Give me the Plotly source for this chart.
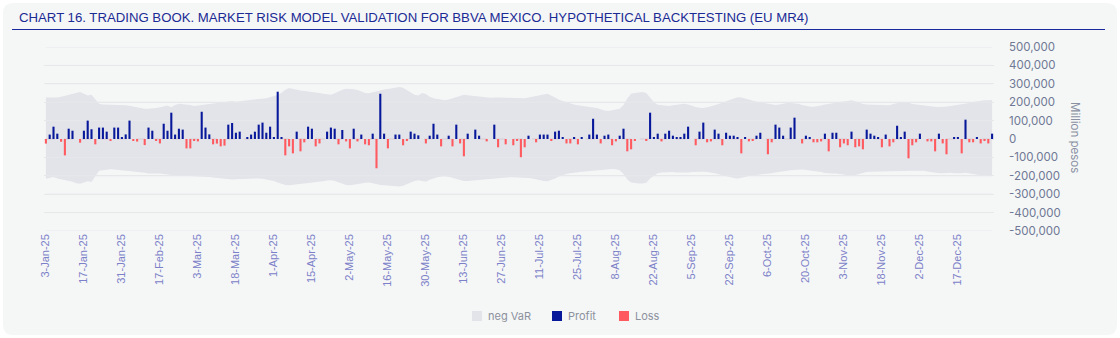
import pandas as pd
import plotly.graph_objects as go

# ---------------- data ----------------
mx_holidays = ["2025-02-03", "2025-03-17", "2025-04-17", "2025-04-18", "2025-05-01",
               "2025-09-16", "2025-11-17", "2025-12-12", "2025-12-25"]
trading_days = pd.bdate_range("2025-01-03", "2025-12-31", freq="C", holidays=mx_holidays)
dates = [f"{d.day}-{d.strftime('%b-%y')}" for d in trading_days]

# daily hypothetical P&L (million pesos)
pnl = [
    -25000, 24000, 67000, 29000, -15000, -89000, 56000, 45000, 0, -20000,
    45000, 100000, 53000, -29000, 62000, 62000, 40000, -10000, 62000, 62000,
    9000, 25000, 100000, -10000, -14000, 0, -33000, 62000, 45000, -9000,
    -24000, 83000, 45000, 143000, 24000, 56000, 51000, -51000, -51000, -9000,
    -13000, 148000, 62000, 25000, -29000, -25000, -40000, -36000, 78000, 87000,
    34000, 40000, 0, 9000, 24000, 40000, 78000, 89000, 34000, 67000,
    9000, 257000, 9000, -89000, -40000, -78000, 40000, -67000, -18000, 67000,
    56000, -40000, -24000, 0, 40000, 62000, 56000, -29000, 49000, -13000,
    -51000, 56000, -13000, 24000, -29000, -34000, 29000, -159000, 246000, 29000,
    -51000, 0, 24000, 24000, -34000, -7000, 40000, 29000, 20000, 0,
    -24000, 18000, 83000, 24000, -40000, 0, 18000, -40000, 78000, -24000,
    -94000, 29000, 0, 51000, 18000, 0, -13000, 0, 78000, -45000,
    0, -29000, 0, -34000, -7000, -99000, -45000, 18000, 0, -18000,
    24000, 24000, 24000, -7000, 40000, 45000, 7000, -24000, -24000, 7000,
    -29000, 9000, 0, 24000, 110000, 24000, -24000, 18000, 24000, -34000,
    -13000, 18000, 56000, -67000, -56000, -7000, 0, 0, -7000, 143000,
    9000, 29000, -13000, 29000, 45000, 18000, 9000, 9000, 29000, 67000,
    0, -34000, 40000, 89000, -18000, -13000, 51000, 29000, -34000, 34000,
    18000, 18000, 7000, -78000, 7000, -13000, -7000, 18000, 34000, 0,
    -83000, -18000, 78000, 62000, 18000, 0, 62000, 116000, 0, -24000,
    18000, 9000, -18000, -18000, -13000, 29000, -67000, 34000, 34000, -45000,
    -24000, -34000, 40000, -45000, -40000, -56000, 51000, 29000, 18000, 9000,
    -45000, 24000, -40000, -18000, 72000, 9000, 40000, -105000, -34000, -18000,
    29000, 0, -13000, -13000, -67000, 29000, -24000, -83000, 0, 7000,
    7000, -78000, 105000, -18000, -18000, 7000, -24000, -7000, -24000, 29000,
]

# VaR band, upper edge (million pesos)
var_upper = [
    226000, 225000, 224000, 226000, 230000, 235000, 240000, 246000, 252000, 255000,
    246000, 236000, 240000, 215000, 192000, 187000, 187000, 187000, 186000, 187000,
    186000, 184000, 181000, 177000, 173000, 168000, 165000, 165000, 166000, 168000,
    173000, 178000, 182000, 172000, 185000, 192000, 191000, 190000, 185000, 180000,
    183000, 185000, 188000, 190000, 192000, 195000, 197000, 200000, 204000, 206000,
    203000, 205000, 209000, 212000, 214000, 216000, 217000, 219000, 222000, 227000,
    233000, 240000, 252000, 268000, 277000, 272000, 266000, 263000, 261000, 259000,
    257000, 254000, 250000, 246000, 243000, 240000, 248000, 258000, 268000, 273000,
    274000, 271000, 266000, 259000, 250000, 248000, 253000, 262000, 266000, 269000,
    272000, 276000, 280000, 283000, 278000, 265000, 250000, 240000, 236000, 250000,
    244000, 230000, 222000, 218000, 211000, 210000, 214000, 220000, 226000, 233000,
    240000, 238000, 235000, 232000, 230000, 228000, 226000, 224000, 226000, 228000,
    226000, 224000, 223000, 222000, 220000, 219000, 222000, 226000, 229000, 233000,
    237000, 242000, 246000, 238000, 226000, 213000, 206000, 200000, 194000, 187000,
    183000, 179000, 176000, 174000, 171000, 168000, 160000, 155000, 152000, 158000,
    160000, 165000, 185000, 220000, 246000, 250000, 253000, 255000, 250000, 225000,
    200000, 186000, 183000, 182000, 180000, 183000, 187000, 190000, 192000, 188000,
    180000, 174000, 170000, 168000, 172000, 176000, 183000, 190000, 197000, 205000,
    212000, 220000, 227000, 226000, 222000, 215000, 208000, 202000, 198000, 195000,
    192000, 188000, 185000, 188000, 192000, 195000, 195000, 194000, 192000, 185000,
    180000, 176000, 175000, 177000, 182000, 188000, 192000, 195000, 198000, 201000,
    204000, 207000, 210000, 205000, 196000, 190000, 188000, 187000, 188000, 186000,
    185000, 184000, 184000, 190000, 196000, 200000, 201000, 198000, 190000, 187000,
    187000, 185000, 182000, 178000, 175000, 174000, 174000, 176000, 180000, 183000,
    184000, 186000, 190000, 196000, 201000, 205000, 208000, 210000, 211000, 212000,
]

# VaR band, lower edge ("neg VaR", million pesos)
var_lower = [
    -216000, -210000, -207000, -215000, -219000, -222000, -226000, -232000, -240000, -243000,
    -236000, -230000, -234000, -200000, -172000, -170000, -167000, -165000, -166000, -168000,
    -169000, -170000, -172000, -175000, -178000, -181000, -184000, -188000, -190000, -188000,
    -187000, -190000, -195000, -197000, -199000, -201000, -200000, -199000, -201000, -203000,
    -203000, -204000, -206000, -207000, -209000, -212000, -215000, -217000, -219000, -220000,
    -219000, -218000, -216000, -214000, -212000, -212000, -214000, -216000, -219000, -222000,
    -228000, -236000, -244000, -250000, -252000, -250000, -246000, -242000, -240000, -238000,
    -236000, -234000, -232000, -230000, -226000, -224000, -228000, -236000, -244000, -250000,
    -252000, -250000, -246000, -242000, -238000, -236000, -240000, -246000, -250000, -252000,
    -254000, -256000, -258000, -258000, -254000, -245000, -236000, -228000, -224000, -230000,
    -232000, -222000, -214000, -208000, -204000, -202000, -205000, -210000, -216000, -222000,
    -228000, -228000, -226000, -224000, -222000, -220000, -218000, -216000, -214000, -212000,
    -210000, -208000, -208000, -208000, -208000, -208000, -210000, -212000, -215000, -220000,
    -224000, -228000, -230000, -224000, -214000, -204000, -196000, -190000, -186000, -182000,
    -180000, -178000, -176000, -174000, -172000, -170000, -168000, -166000, -164000, -163000,
    -165000, -170000, -190000, -220000, -236000, -240000, -242000, -242000, -238000, -215000,
    -198000, -186000, -182000, -180000, -180000, -180000, -182000, -183000, -184000, -182000,
    -180000, -178000, -177000, -178000, -180000, -182000, -186000, -192000, -198000, -204000,
    -208000, -212000, -214000, -212000, -206000, -200000, -198000, -196000, -195000, -194000,
    -190000, -186000, -182000, -178000, -175000, -172000, -170000, -168000, -166000, -166000,
    -168000, -170000, -172000, -176000, -180000, -185000, -188000, -188000, -188000, -190000,
    -194000, -198000, -200000, -196000, -190000, -184000, -180000, -178000, -178000, -178000,
    -178000, -178000, -176000, -175000, -175000, -174000, -174000, -172000, -172000, -171000,
    -170000, -172000, -176000, -180000, -184000, -186000, -186000, -184000, -184000, -186000,
    -188000, -186000, -184000, -186000, -190000, -194000, -197000, -199000, -200000, -200000,
]

y_ticks = [500000, 400000, 300000, 200000, 100000, 0, -100000, -200000, -300000, -400000, -500000]
y_tick_text = ["500,000", "400,000", "300,000", "200,000", "100,000", "0",
               "-100,000", "-200,000", "-300,000", "-400,000", "-500,000"]
x_tick_vals = dates[::10]

title_text = ("CHART 16. TRADING BOOK. MARKET RISK MODEL VALIDATION FOR BBVA MEXICO. "
              "HYPOTHETICAL BACKTESTING (EU MR4)")
legend_names = ["neg VaR", "Profit", "Loss"]

# ---------------- style ----------------
W, H = 1120, 338
ML, MR, MT, MB = 44, 126, 47, 107
PW, PH = W - ML - MR, H - MT - MB
BAND = "#e2e4e9"
NAVY = "#08189a"
RED = "#ff5a5f"
GRID = "#e7e8ea"
CARD = "#f5f7f7"


def X(px):
    return (px - ML) / PW


def Y(py):
    return (H - MB - py) / PH


profit = [v if v > 0 else None for v in pnl]
loss = [v if v < 0 else None for v in pnl]

fig = go.Figure()

# band (main subplot)
fig.add_trace(go.Scatter(x=dates, y=var_upper, mode="lines", line=dict(width=0, color=BAND),
                         hoverinfo="skip", showlegend=False))
fig.add_trace(go.Scatter(x=dates, y=var_lower, mode="lines", line=dict(width=0, color=BAND),
                         fill="tonexty", fillcolor=BAND, name="neg VaR", showlegend=False))
# grid lines drawn over the band
for v in y_ticks:
    if v == 0:
        continue
    fig.add_trace(go.Scatter(x=[dates[0], dates[-1]], y=[v, v], mode="lines",
                             line=dict(width=1, color=GRID), hoverinfo="skip", showlegend=False))
fig.add_trace(go.Scatter(x=[dates[0], dates[-1]], y=[0, 0], mode="lines",
                         line=dict(width=1, color="#d9ccd3", dash="dash"),
                         hoverinfo="skip", showlegend=False))

# bars (overlay subplot, drawn above the band)
fig.add_trace(go.Bar(x=dates, y=profit, name="Profit", marker=dict(color=NAVY, line=dict(width=0)),
                     width=0.55, yaxis="y2", showlegend=False))
fig.add_trace(go.Bar(x=dates, y=loss, name="Loss", marker=dict(color=RED, line=dict(width=0)),
                     width=0.55, yaxis="y2", showlegend=False))

shapes = []
# rounded card
L, R, T, B, r = 3, 1117, 3, 335, 10
card_path = (f"M {X(L + r)},{Y(T)} L {X(R - r)},{Y(T)} Q {X(R)},{Y(T)} {X(R)},{Y(T + r)} "
             f"L {X(R)},{Y(B - r)} Q {X(R)},{Y(B)} {X(R - r)},{Y(B)} "
             f"L {X(L + r)},{Y(B)} Q {X(L)},{Y(B)} {X(L)},{Y(B - r)} "
             f"L {X(L)},{Y(T + r)} Q {X(L)},{Y(T)} {X(L + r)},{Y(T)} Z")
shapes.append(dict(type="path", path=card_path, xref="paper", yref="paper",
                   fillcolor=CARD, line=dict(width=0), layer="below"))
# title underline
shapes.append(dict(type="line", xref="paper", yref="paper", x0=X(12), x1=X(1105), y0=Y(29.5), y1=Y(29.5),
                   line=dict(color="#1a2a9c", width=1)))
# manual legend squares
leg_cols = [BAND, NAVY, RED]
leg_sq_x = [477, 557, 624]
for cx, col in zip(leg_sq_x, leg_cols):
    shapes.append(dict(type="rect", xref="paper", yref="paper", x0=X(cx - 5), x1=X(cx + 5),
                       y0=Y(321), y1=Y(311), fillcolor=col, line=dict(width=0)))

annotations = [
    dict(text=title_text, x=X(17), y=Y(17.5), xref="paper", yref="paper", xanchor="left",
         yanchor="middle", showarrow=False,
         font=dict(family="Liberation Sans", size=13.2, color="#1b2a94")),
    dict(text="Million pesos", x=X(1075), y=Y(137), xref="paper", yref="paper", textangle=90,
         xanchor="center", yanchor="middle", showarrow=False,
         font=dict(family="Inter", size=11.5, color="#8a90a2")),
]
for cx, name in zip(leg_sq_x, legend_names):
    annotations.append(dict(text=name, x=X(cx + 9), y=Y(316), xref="paper", yref="paper",
                            xanchor="left", yanchor="middle", showarrow=False,
                            font=dict(family="Inter", size=11, color="#8c919c")))

fig.update_layout(
    width=W, height=H,
    margin=dict(l=ML, r=MR, t=MT, b=MB),
    paper_bgcolor="#ffffff",
    plot_bgcolor="rgba(0,0,0,0)",
    barmode="overlay",
    showlegend=False,
    shapes=shapes,
    annotations=annotations,
    xaxis=dict(type="category", categoryorder="array", categoryarray=dates,
               range=[-0.5, len(dates) - 0.5], tickmode="array", tickvals=x_tick_vals,
               ticktext=x_tick_vals, tickangle=-90, showgrid=False, zeroline=False,
               showline=False, ticks="", fixedrange=True,
               tickfont=dict(family="Liberation Sans", size=11, color="#7c80c8")),
    yaxis=dict(side="right", range=[-500000, 500000], tickmode="array", tickvals=y_ticks,
               ticktext=y_tick_text, showgrid=True, gridcolor=GRID, gridwidth=1,
               zeroline=False, showline=False, ticks="", ticklabelstandoff=14,
               tickfont=dict(family="Inter", size=11.5, color="#6f7894")),
    yaxis2=dict(overlaying="y", range=[-500000, 500000], visible=False, showgrid=False,
                zeroline=False),
)

fig.write_html("out.html")
